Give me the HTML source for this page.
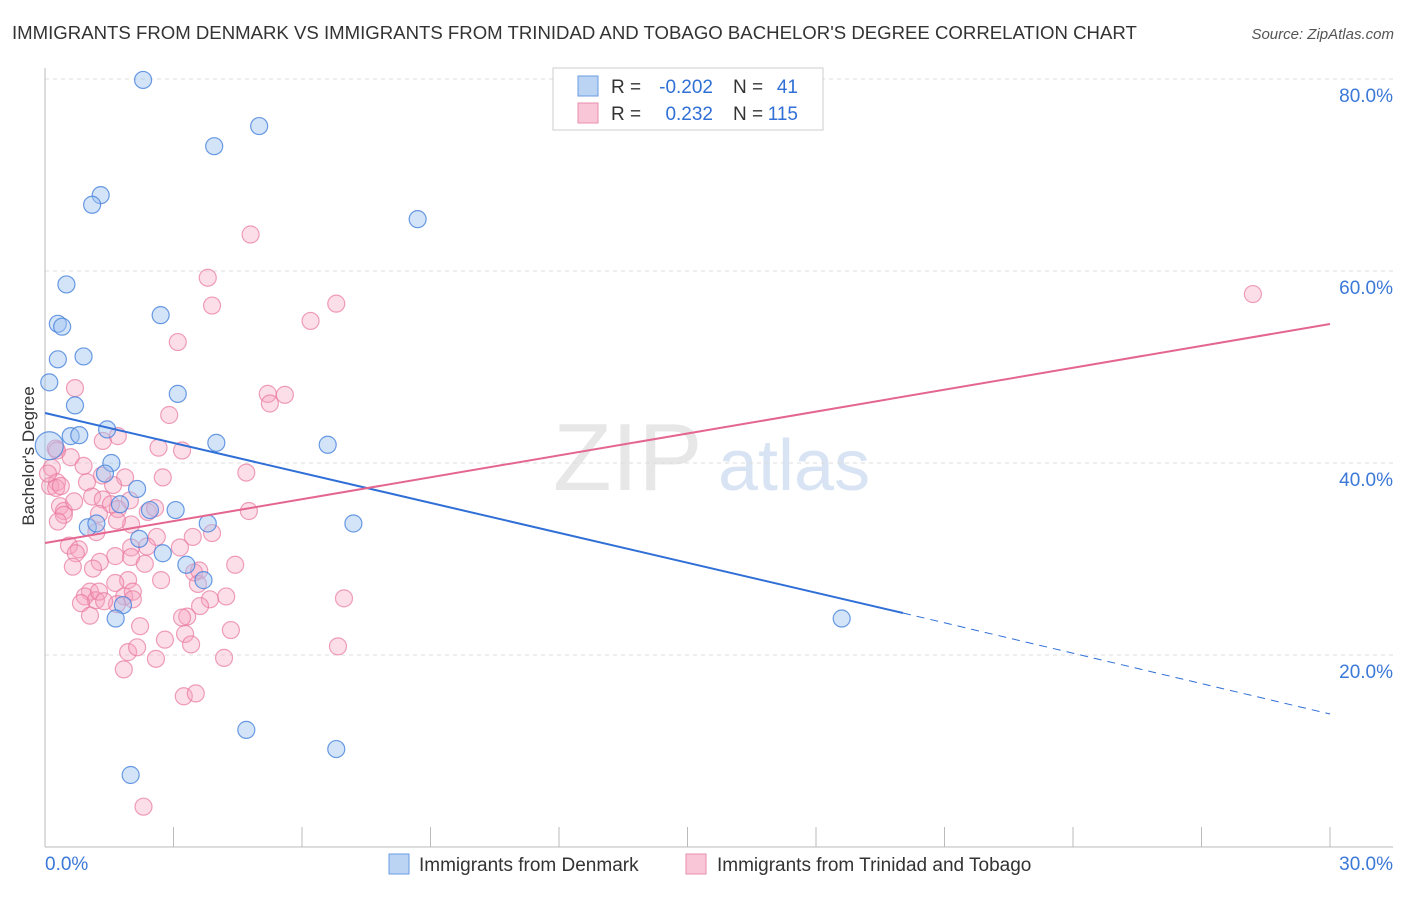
<!DOCTYPE html>
<html><head><meta charset="utf-8"><style>
body{margin:0;background:#fff;font-family:"Liberation Sans",sans-serif}
svg text{font-family:"Liberation Sans",sans-serif}
</style></head><body>
<svg id="chart" width="1406" height="892">
<text x="12" y="39" font-size="18.6" fill="#333">IMMIGRANTS FROM DENMARK VS IMMIGRANTS FROM TRINIDAD AND TOBAGO BACHELOR'S DEGREE CORRELATION CHART</text>
<text x="1394" y="39" font-size="15" fill="#555" font-style="italic" text-anchor="end">Source: ZipAtlas.com</text>
<text x="34" y="456" font-size="17" fill="#333" text-anchor="middle" transform="rotate(-90 34 456)">Bachelor's Degree</text>
<g><text x="553" y="490" font-size="96" fill="#ddd" font-family="Liberation Serif" opacity="0.7">ZIP</text><text x="718" y="490" font-size="72" fill="#c8d8ee" opacity="0.7">atlas</text></g>
<g id="grid"></g><g id="axes"></g><g id="pts"></g><g id="lines"></g>
<g>
<rect x="553" y="68" width="270" height="62" fill="#fff" stroke="#ccc"/>
<rect x="578" y="76" width="20" height="20" fill="#bcd4f4" stroke="#6a9be0"/>
<rect x="578" y="103" width="20" height="20" fill="#f8c6d6" stroke="#ea8fae"/>
<text x="611" y="93" font-size="19" fill="#333">R =</text>
<text x="713" y="93" font-size="19" fill="#2f6fd6" text-anchor="end">-0.202</text>
<text x="733" y="93" font-size="19" fill="#333">N =</text>
<text x="798" y="93" font-size="19" fill="#2f6fd6" text-anchor="end">41</text>
<text x="611" y="120" font-size="19" fill="#333">R =</text>
<text x="713" y="120" font-size="19" fill="#2f6fd6" text-anchor="end">0.232</text>
<text x="733" y="120" font-size="19" fill="#333">N =</text>
<text x="798" y="120" font-size="19" fill="#2f6fd6" text-anchor="end">115</text>
</g>
<g>
<rect x="389" y="854" width="20" height="20" fill="#bcd4f4" stroke="#6a9be0"/>
<text x="419" y="871" font-size="19" fill="#333">Immigrants from Denmark</text>
<rect x="686" y="854" width="20" height="20" fill="#f8c6d6" stroke="#ea8fae"/>
<text x="717" y="871" font-size="19" fill="#333">Immigrants from Trinidad and Tobago</text>
</g>
</svg>
<script>
const yTicks=[20,40,60,80];
const xTickLabels=["0.0%","30.0%"];
const denmarkX=[2.29,5.0,3.95,1.3,1.1,8.7,0.5,0.3,0.4,2.7,0.3,0.9,0.1,3.1,0.7,0.6,0.8,1.45,4.0,6.6,1.55,1.4,2.15,1.75,3.05,2.45,1.0,1.2,3.8,7.2,2.2,2.75,3.3,3.7,1.82,1.65,18.6,4.7,6.8,2.0,0.1];
const denmarkY=[79.9,75.1,73.0,67.9,66.9,65.4,58.6,54.5,54.2,55.4,50.8,51.1,48.4,47.2,46.0,42.8,42.9,43.5,42.1,41.9,40.0,38.9,37.3,35.7,35.1,35.1,33.3,33.7,33.7,33.7,32.1,30.6,29.4,27.8,25.2,23.8,23.8,12.2,10.2,7.5,41.8];
const trinX=[2.3,4.8,3.8,3.9,6.2,6.8,28.2,3.1,0.7,2.9,5.2,5.25,5.6,3.2,2.65,1.7,1.35,0.25,0.6,4.7,0.9,2.75,1.33,1.87,0.16,0.28,0.12,0.26,0.07,0.37,0.35,0.98,1.59,1.1,0.44,0.68,1.35,1.98,1.54,2.4,0.44,2.57,4.76,1.7,2.61,2.01,0.3,1.68,1.26,3.9,3.45,3.15,0.56,0.79,2.38,2.01,1.64,0.72,2.01,1.28,0.65,1.12,2.33,4.44,3.48,3.6,1.94,1.64,1.05,3.57,2.71,0.93,1.19,1.26,1.85,1.68,2.05,4.23,3.85,3.62,6.98,0.84,1.38,1.05,2.05,3.32,3.2,2.22,4.34,3.27,6.84,2.8,3.41,1.94,2.15,2.59,4.18,1.84,3.24,3.52,0.28,1.2];
const trinY=[4.2,63.8,59.3,56.4,54.8,56.6,57.6,52.6,47.8,45.0,47.2,46.2,47.1,41.3,41.6,42.8,42.3,41.5,40.6,39.0,39.7,38.5,38.7,38.5,39.5,38.0,37.6,37.4,38.9,37.6,35.5,38.0,37.7,36.5,35.0,36.0,36.2,36.1,35.7,34.9,34.6,35.3,35.0,35.2,32.3,33.6,33.9,34.0,34.7,32.7,32.3,31.2,31.4,31.0,31.3,31.2,30.3,30.6,30.2,29.7,29.2,29.0,29.5,29.4,28.6,28.8,27.8,27.5,26.6,27.4,27.8,26.1,25.7,26.6,26.1,25.3,26.6,26.1,25.8,25.1,25.9,25.4,25.6,24.1,25.8,24.0,23.9,23.0,22.6,22.2,20.9,21.6,21.1,20.3,20.8,19.6,19.7,18.5,15.7,16.0,41.3,32.8];
const NS='http://www.w3.org/2000/svg';
const X0=45,X1=1330,Y0=847;
const xs=v=>X0+v/30*(X1-X0);
const ys=v=>Y0-v*9.6;
function mk(tag,attrs,parent){const e=document.createElementNS(NS,tag);for(const k in attrs)e.setAttribute(k,attrs[k]);document.getElementById(parent).appendChild(e);return e;}
yTicks.forEach(t=>{
 const g=mk('line',{x1:45,x2:1393,y1:ys(t),y2:ys(t),stroke:'#ddd','stroke-dasharray':'4,4'},'grid');
 
 
 const l=mk('text',{x:1393,y:ys(t)+23,'font-size':19,fill:'#3b78d8','text-anchor':'end'},'grid');
 l.textContent=t.toFixed(1)+'%';
 
 
});
const ax=mk('line',{x1:45,x2:45,y1:68,y2:847,stroke:'#bbb'},'axes');


const bx=mk('line',{x1:45,x2:1393,y1:847,y2:847,stroke:'#bbb'},'axes');


for(let i=0;i<=10;i++){const t=mk('line',{x1:xs(i*3),x2:xs(i*3),y1:827,y2:847,stroke:'#bbb'},'axes');
 
 }
const xl0=mk('text',{x:45,y:870,'font-size':19,fill:'#3b78d8'},'axes');xl0.textContent=xTickLabels[0];


const xl1=mk('text',{x:1393,y:870,'font-size':19,fill:'#3b78d8','text-anchor':'end'},'axes');xl1.textContent=xTickLabels[1];


trinX.forEach((x,i)=>{const c=mk('circle',{cx:xs(x),cy:ys(trinY[i]),r:8.5,fill:'rgba(245,160,188,0.35)',stroke:'rgba(232,120,158,0.7)','stroke-width':1.2},'pts');
 
 });
denmarkX.forEach((x,i)=>{const c=mk('circle',{cx:xs(x),cy:ys(denmarkY[i]),r:i==40?14:8.5,fill:'rgba(160,195,240,0.45)',stroke:'rgba(70,130,220,0.8)','stroke-width':1.2},'pts');
 
 });
const bl=mk('line',{x1:xs(0),y1:413,x2:903,y2:613,stroke:'#2f6fd6','stroke-width':2},'lines');


const bd=mk('line',{x1:903,y1:613,x2:1330,y2:714,stroke:'#2f6fd6','stroke-width':1,'stroke-dasharray':'8,6'},'lines');


const pl=mk('line',{x1:45,y1:543,x2:1330,y2:324,stroke:'#e4668f','stroke-width':2},'lines');


</script>
</body></html>
